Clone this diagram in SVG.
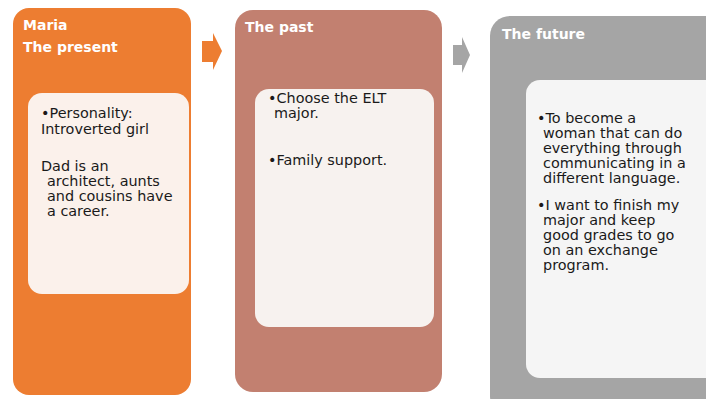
<svg xmlns="http://www.w3.org/2000/svg" width="706" height="399" viewBox="0 0 706 399">
<style>
.title{font-family:Tahoma,"DejaVu Sans",Verdana,sans-serif;font-weight:bold;font-size:14px;fill:#ffffff}
.body{font-family:"DejaVu Sans",Verdana,sans-serif;font-size:14.4px;fill:#1a1a1a}
</style>
<rect width="706" height="399" fill="#ffffff"/>
<g id="connectors">
<path d="M202,41 H213 V33 L222,51 L213,70 V62 H202 Z" fill="#ED7D31"/>
<path d="M453,45 H462 V37 L470,55 L462,73 V65 H453 Z" fill="#A5A5A5"/>
</g>
<g id="present">
<rect x="13" y="8" width="178" height="387" rx="16" fill="#ED7D31"/>
<text class="title" x="23" y="30">Maria</text>
<text class="title" x="23" y="52">The present</text>
<rect x="28" y="93" width="161" height="201" rx="14" fill="#FBF1EB"/>
<text class="body" x="41" y="118">•Personality:</text>
<text class="body" x="41" y="134">Introverted girl</text>
<text class="body" x="41" y="171">Dad is an</text>
<text class="body" x="47" y="186">architect, aunts</text>
<text class="body" x="47" y="201">and cousins have</text>
<text class="body" x="47" y="216">a career.</text>
</g>
<g id="past">
<rect x="235" y="10" width="207" height="382" rx="18" fill="#C28070"/>
<text class="title" x="245" y="32">The past</text>
<rect x="255" y="89" width="179" height="238" rx="14" fill="#F7F2EF"/>
<text class="body" x="268" y="103">•Choose the ELT</text>
<text class="body" x="274" y="118">major.</text>
<text class="body" x="268" y="165">•Family support.</text>
</g>
<g id="future">
<rect x="490" y="16" width="240" height="400" rx="20" fill="#A5A5A5"/>
<text class="title" x="502" y="39">The future</text>
<rect x="526" y="80" width="200" height="298" rx="14" fill="#F5F5F5"/>
<text class="body" x="537" y="123">•To become a</text>
<text class="body" x="543" y="138">woman that can do</text>
<text class="body" x="543" y="153">everything through</text>
<text class="body" x="543" y="168">communicating in a</text>
<text class="body" x="543" y="183">different language.</text>
<text class="body" x="537" y="210">•I want to finish my</text>
<text class="body" x="543" y="225">major and keep</text>
<text class="body" x="543" y="240">good grades to go</text>
<text class="body" x="543" y="255">on an exchange</text>
<text class="body" x="543" y="270">program.</text>
</g>
</svg>
